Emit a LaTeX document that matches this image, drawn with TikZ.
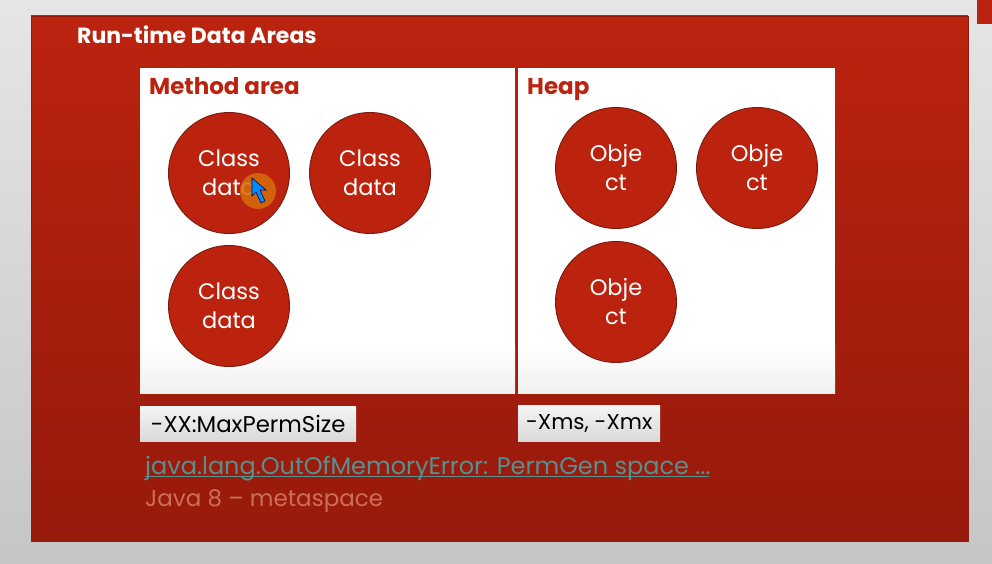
\documentclass[tikz,border=0pt]{standalone}
\usepackage{fontspec}
\setmainfont{Poppins}
\usetikzlibrary{positioning,shadings}
\definecolor{slidered}{RGB}{187,35,15}
\definecolor{slidedark}{RGB}{150,26,12}
\definecolor{circleedge}{RGB}{120,25,15}
\definecolor{linkteal}{RGB}{84,146,146}
\definecolor{fadedtext}{RGB}{205,110,90}
\definecolor{pointerhalo}{RGB}{214,108,10}
\tikzset{
    area/.style={rectangle, fill=white, anchor=north west, inner sep=0pt},
    blob/.style={circle, draw=circleedge, line width=0.9pt, fill=slidered, minimum size=121pt, inner sep=0pt, text=white, font=\fontsize{22.5}{29}\selectfont, align=center},
    tag/.style={rectangle, anchor=north west, inner sep=0pt, top color=white!96!black, bottom color=white!85!black, text=black},
    heading/.style={anchor=base west, inner sep=0pt, text=slidered, font=\fontsize{23}{27}\selectfont\bfseries}
}
\begin{document}
\begin{tikzpicture}[x=1pt, y=-1pt]
    \useasboundingbox (0,0) rectangle (992,564);
    % Backdrop
    \shade[top color=gray!20, bottom color=gray!45] (0,0) rectangle (992,564);
    \fill[slidered] (977,0) rectangle (992,24);
    \shade[top color=slidered, bottom color=slidedark, draw=slidedark] (31,16) rectangle (968,541);

    % Title
    \node[anchor=base west, inner sep=0pt, text=white, font=\fontsize{22}{26}\selectfont\bfseries] (title) at (77,44) {Run-time Data Areas};

    % Areas
    \node[area, minimum width=375pt, minimum height=325pt] (method) at (140,68) {};
    \node[area, minimum width=317pt, minimum height=325pt] (heap) at (518,68) {};
    \shade[top color=white, bottom color=gray!12] (140,345) rectangle (515,393);
    \shade[top color=white, bottom color=gray!12] (518,345) rectangle (835,393);
    \node[heading] (methodlabel) at (149,95) {Method area};
    \node[heading] (heaplabel) at (527,95) {Heap};

    % Circles
    \node[blob] (class1) at (229,173) {Class\\data};
    \node[blob] (class2) at (370,173) {Class\\data};
    \node[blob] (class3) at (229,306) {Class\\data};
    \node[blob] (obj1) at (616,168) {Obje\\ct};
    \node[blob] (obj2) at (757,168) {Obje\\ct};
    \node[blob] (obj3) at (616,302) {Obje\\ct};

    % Pointer
    \fill[pointerhalo, fill opacity=0.85] (258,191) circle (18);
    \draw[draw=black!70!blue, fill=blue!45!cyan, line width=0.6pt] (252,178) -- (252,196) -- (256,192) -- (261,203) -- (265,201) -- (260,190) -- (266,190) -- cycle;

    % Tags
    \node[tag, minimum width=216pt, minimum height=35pt, font=\fontsize{22.8}{27}\selectfont] (permtag) at (140,406) {-XX:MaxPermSize};
    \node[tag, minimum width=142pt, minimum height=36pt, font=\fontsize{21.5}{27}\selectfont] (xmstag) at (518,405) {-Xms, -Xmx};

    % Notes
    \node[anchor=base west, inner sep=0pt, text=linkteal, font=\fontsize{24}{28}\selectfont] (oomnote) at (145,474) {java.lang.OutOfMemoryError: PermGen space ...};
    \draw[linkteal, line width=0.9pt] (oomnote.base west)++(0,2.5) -- ++(564,0);
    \node[anchor=base west, inner sep=0pt, text=fadedtext, font=\fontsize{23}{27}\selectfont] (metanote) at (145,506) {Java 8 -- metaspace};
\end{tikzpicture}
\end{document}
